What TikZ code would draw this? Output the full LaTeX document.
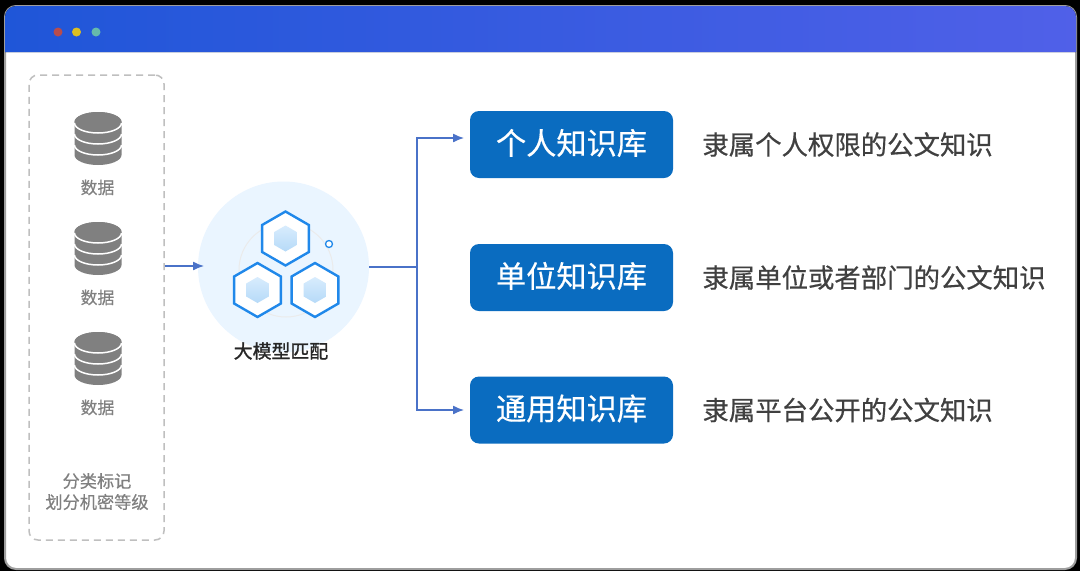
\documentclass[tikz,border=0pt]{standalone}
\usepackage{fontspec}
\setmainfont{Noto Sans CJK SC}
\newfontfamily\medcjk[FakeBold=0.5]{Noto Sans CJK SC}
\newfontfamily\heavycjk[FakeBold=1.2]{Noto Sans CJK SC}
\usetikzlibrary{positioning,shapes.geometric,arrows.meta}
\definecolor{linkblue}{HTML}{4A72C8}
\definecolor{kbblue}{HTML}{0A6CC0}
\definecolor{hexblue}{HTML}{2088EA}
\definecolor{hubblue}{HTML}{EAF5FF}
\definecolor{datagray}{HTML}{808080}
\definecolor{coretop}{HTML}{D8ECFD}
\definecolor{corelow}{HTML}{B6DAF8}
\definecolor{barleft}{HTML}{1F56D8}
\definecolor{barright}{HTML}{5060E8}
\tikzset{%
  >={Latex[length=11pt,width=9pt]},
  window/.style={draw=black!38,line width=2pt,fill=white,rounded corners=11pt,minimum width=1071pt,minimum height=563pt},
  dot/.style={circle,inner sep=0pt,minimum size=9pt},
  hex/.style={regular polygon,regular polygon sides=6,shape border rotate=30,draw=hexblue,line width=2.4pt,fill=white,minimum size=54pt,inner sep=0pt},
  hexcore/.style={regular polygon,regular polygon sides=6,shape border rotate=30,top color=coretop,bottom color=corelow,inner sep=0pt,minimum size=26pt},
  kb/.style={fill=kbblue,rounded corners=9pt,minimum width=203pt,minimum height=67pt,inner sep=0pt,text=white},
  kbtext/.style={inner sep=0pt,text=white,font=\medcjk\fontsize{30.2}{30.2}\selectfont},
  note/.style={anchor=west,inner sep=0pt,text=black!75,font=\medcjk\fontsize{26.4}{26.4}\selectfont},
  datalabel/.style={inner sep=0pt,text=datagray,font=\medcjk\fontsize{16.8}{16.8}\selectfont},
  link/.style={draw=linkblue,line width=1.3pt},
  pics/dbicon/.style={code={
    \fill[datagray] (-23.5,-16) arc (180:360:23.5 and 10) -- (23.5,17) arc (0:180:23.5 and 10) -- cycle;
    \fill[datagray] (0,-16) ellipse (23.5 and 10);
    \foreach \y in {-15,-4,7}
      \draw[white,line width=1.5pt] (-23.5,\y) arc (180:0:23.5 and 10);
  }}
}
\begin{document}
\begin{tikzpicture}[x=1pt,y=-1pt]
  \fill[black] (0,0) rectangle (1080,571);
  \useasboundingbox (0,0) rectangle (1080,571);
  \node[window] (win) at (540.5,287.5) {};
  \fill[left color=barleft,right color=barright]
    (5,52) [rounded corners=11pt] -- (5,6) -- (1076,6) [sharp corners] -- (1076,52) -- cycle;
  \foreach \x/\c/\n in {58/{red!60!black!70!white}/a,76.5/{yellow!75!orange!85!black}/b,96/{green!55!blue!60!white}/c}
    \node[dot,fill=\c] (dot\n) at (\x,32) {};

  \node[draw=black!25,line width=1.5pt,dash pattern=on 7pt off 5pt,rounded corners=9pt,minimum width=135pt,minimum height=465pt,inner sep=0pt] (store) at (96.5,307.5) {};
  \foreach \n/\y in {1/138,2/248,3/358} {
    \pic at (98,\y) {dbicon};
    \node[datalabel] (data\n) at (97.5,\y+49.5) {数据};
  }
  \node[datalabel,font=\medcjk\fontsize{17.2}{17.2}\selectfont] (tagA) at (97,481) {分类标记};
  \node[datalabel,font=\medcjk\fontsize{17.2}{17.2}\selectfont] (tagB) at (97,502) {划分机密等级};

  \node[circle,fill=hubblue,minimum size=171pt,inner sep=0pt] (hub) at (283.5,267) {};
  \draw[black!8,line width=1pt] (286,270) circle (47);
  \foreach \n/\x/\y in {a/285.5/238.5,b/257.5/290,c/315/290} {
    \node[hex] (hex\n) at (\x,\y) {};
    \node[hexcore] (core\n) at (hex\n) {};
  }
  \node[circle,draw=hexblue,line width=1.3pt,fill=white,minimum size=7pt,inner sep=0pt] (spot) at (329,244) {};
  \node[inner sep=0pt,text=black!85,font=\heavycjk\fontsize{18.9}{18.9}\selectfont] (hubname) at (281,351) {大模型匹配};

  \foreach \n/\y/\t in {A/144.5/个人知识库,B/277.5/单位知识库,C/410/通用知识库} {
    \node[kb] (kb\n) at (571.5,\y) {};
    \node[kbtext] (kbname\n) at (571.5,\y-1.5) {\t};
  }
  \node[note,right=29pt of kbA] (noteA) {隶属个人权限的公文知识};
  \node[note,right=29pt of kbB] (noteB) {隶属单位或者部门的公文知识};
  \node[note,right=29pt of kbC] (noteC) {隶属平台公开的公文知识};

  \coordinate (storeout) at (store.east |- 0,266);
  \coordinate (hubin) at (204,266);
  \coordinate (fork) at (417,267);
  \coordinate (upin) at (464,138);
  \coordinate (lowin) at (464,410);
  \draw[link,->] (storeout) -- (hubin);
  \draw[link] (hub.east) -- (fork);
  \draw[link,->] (fork) |- (upin);
  \draw[link,->] (fork) |- (lowin);
\end{tikzpicture}
\end{document}
